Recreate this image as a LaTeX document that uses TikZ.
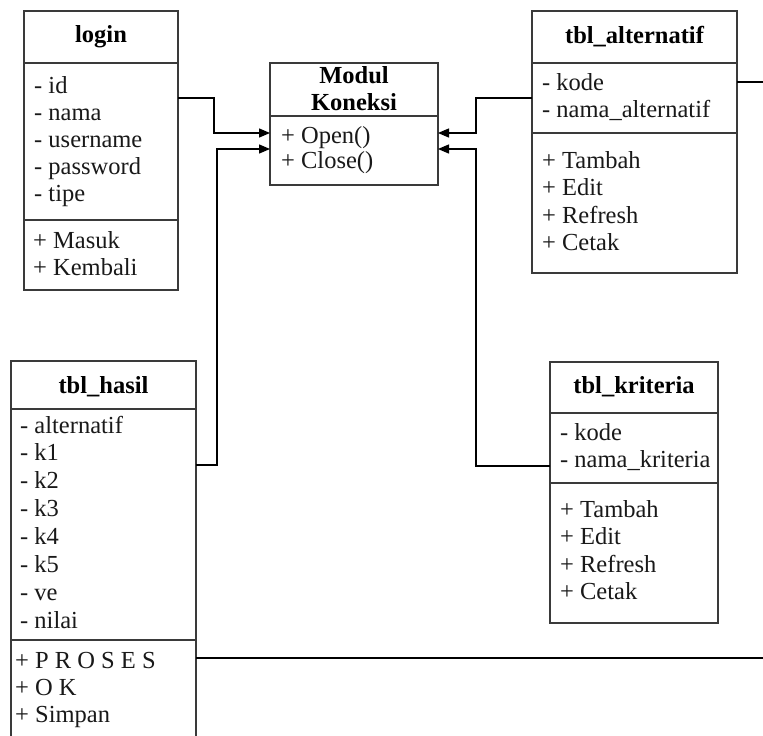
\documentclass[tikz,border=0pt]{standalone}
\usepackage{fontspec}
\setmainfont{Liberation Serif}
\usetikzlibrary{arrows.meta}
\definecolor{boxc}{HTML}{3A3A3A}
\begin{document}
\begin{tikzpicture}[x=1pt,y=-1pt,
  comp/.style={draw=boxc, line width=1.4pt, anchor=north west, inner sep=0pt, outer sep=0pt, rectangle},
  txt/.style={anchor=base west, inner sep=0pt, text=black!90, font=\fontsize{24.5pt}{27.7pt}\selectfont},
  hd/.style={anchor=base, inner sep=0pt, font=\fontsize{24.5pt}{27.7pt}\selectfont\bfseries},
  conn/.style={draw=black, line width=1.3pt},
  arr/.style={conn, -{Triangle[length=11pt,width=9pt]}}]
\clip (0,0) rectangle (763,736);
\fill[white] (0,0) rectangle (763,736);

% ---------- login ----------
\node[comp, minimum width=154pt, minimum height=52pt] (login-h) at (24,11) {};
\node[comp, minimum width=154pt, minimum height=157pt] (login-a) at (24,63) {};
\node[comp, minimum width=154pt, minimum height=70pt] (login-m) at (24,220) {};
\node[hd] (login-t) at (101,42) {login};
\foreach \y/\t [count=\i] in {93/- id,120/- nama,147/- username,174/- password,201/- tipe}
  \node[txt] (login-a\i) at (34,\y) {\t};
\foreach \y/\t [count=\i] in {248/+ Masuk,275/+ Kembali}
  \node[txt] (login-m\i) at (33,\y) {\t};

% ---------- Modul Koneksi ----------
\node[comp, minimum width=168pt, minimum height=53pt] (modul-h) at (270,63) {};
\node[comp, minimum width=168pt, minimum height=69pt] (modul-m) at (270,116) {};
\node[hd] (modul-t1) at (354,83) {Modul};
\node[hd] (modul-t2) at (354,110) {Koneksi};
\foreach \y/\t [count=\i] in {143/+ Open(),168/+ Close()}
  \node[txt] (modul-m\i) at (281,\y) {\t};

% ---------- tbl_alternatif ----------
\node[comp, minimum width=205pt, minimum height=52pt] (alt-h) at (532,11) {};
\node[comp, minimum width=205pt, minimum height=70pt] (alt-a) at (532,63) {};
\node[comp, minimum width=205pt, minimum height=140pt] (alt-m) at (532,133) {};
\node[hd] (alt-t) at (634.5,43) {tbl\_alternatif};
\foreach \y/\t [count=\i] in {90/- kode,117/- nama\_alternatif}
  \node[txt] (alt-a\i) at (542,\y) {\t};
\foreach \y/\t [count=\i] in {168/+ Tambah,195.5/+ Edit,223/+ Refresh,250.5/+ Cetak}
  \node[txt] (alt-m\i) at (542,\y) {\t};

% ---------- tbl_kriteria ----------
\node[comp, minimum width=168pt, minimum height=51pt] (krit-h) at (550,362) {};
\node[comp, minimum width=168pt, minimum height=70pt] (krit-a) at (550,413) {};
\node[comp, minimum width=168pt, minimum height=140pt] (krit-m) at (550,483) {};
\node[hd] (krit-t) at (634,393) {tbl\_kriteria};
\foreach \y/\t [count=\i] in {440/- kode,467.5/- nama\_kriteria}
  \node[txt] (krit-a\i) at (560,\y) {\t};
\foreach \y/\t [count=\i] in {517/+ Tambah,544.5/+ Edit,572/+ Refresh,599.5/+ Cetak}
  \node[txt] (krit-m\i) at (560,\y) {\t};

% ---------- tbl_hasil ----------
\node[comp, minimum width=185pt, minimum height=48pt] (hasil-h) at (11,361) {};
\node[comp, minimum width=185pt, minimum height=231pt] (hasil-a) at (11,409) {};
\node[comp, minimum width=185pt, minimum height=120pt] (hasil-m) at (11,640) {};
\node[hd] (hasil-t) at (103.5,393) {tbl\_hasil};
\foreach \y/\t [count=\i] in {433/- alternatif,460.9/- k1,488.7/- k2,516.6/- k3,544.4/- k4,572.3/- k5,600.2/- ve,628/- nilai}
  \node[txt] (hasil-a\i) at (20,\y) {\t};
\foreach \y/\t [count=\i] in {668/+ P R O S E S,695/+ O K,722/+ Simpan}
  \node[txt] (hasil-m\i) at (15,\y) {\t};

% ---------- connectors ----------
\coordinate (edgeA) at (763,82);
\coordinate (edgeB) at (763,658);
\draw[arr] ([yshift=-35pt]login-a.north east) -- ++(36,0) |- ([yshift=-17pt]modul-m.north west);
\draw[arr] ([yshift=-56pt]hasil-a.north east) -- ++(21,0) |- ([yshift=-33pt]modul-m.north west);
\draw[arr] ([yshift=-35pt]alt-a.north west) -- ++(-56,0) |- ([yshift=-17pt]modul-m.north east);
\draw[arr] ([yshift=-53pt]krit-a.north west) -- ++(-74,0) |- ([yshift=-33pt]modul-m.north east);
\draw[conn] ([yshift=-19pt]alt-a.north east) -- (edgeA);
\draw[conn] ([yshift=-18pt]hasil-m.north east) -- (edgeB);
\end{tikzpicture}
\end{document}
